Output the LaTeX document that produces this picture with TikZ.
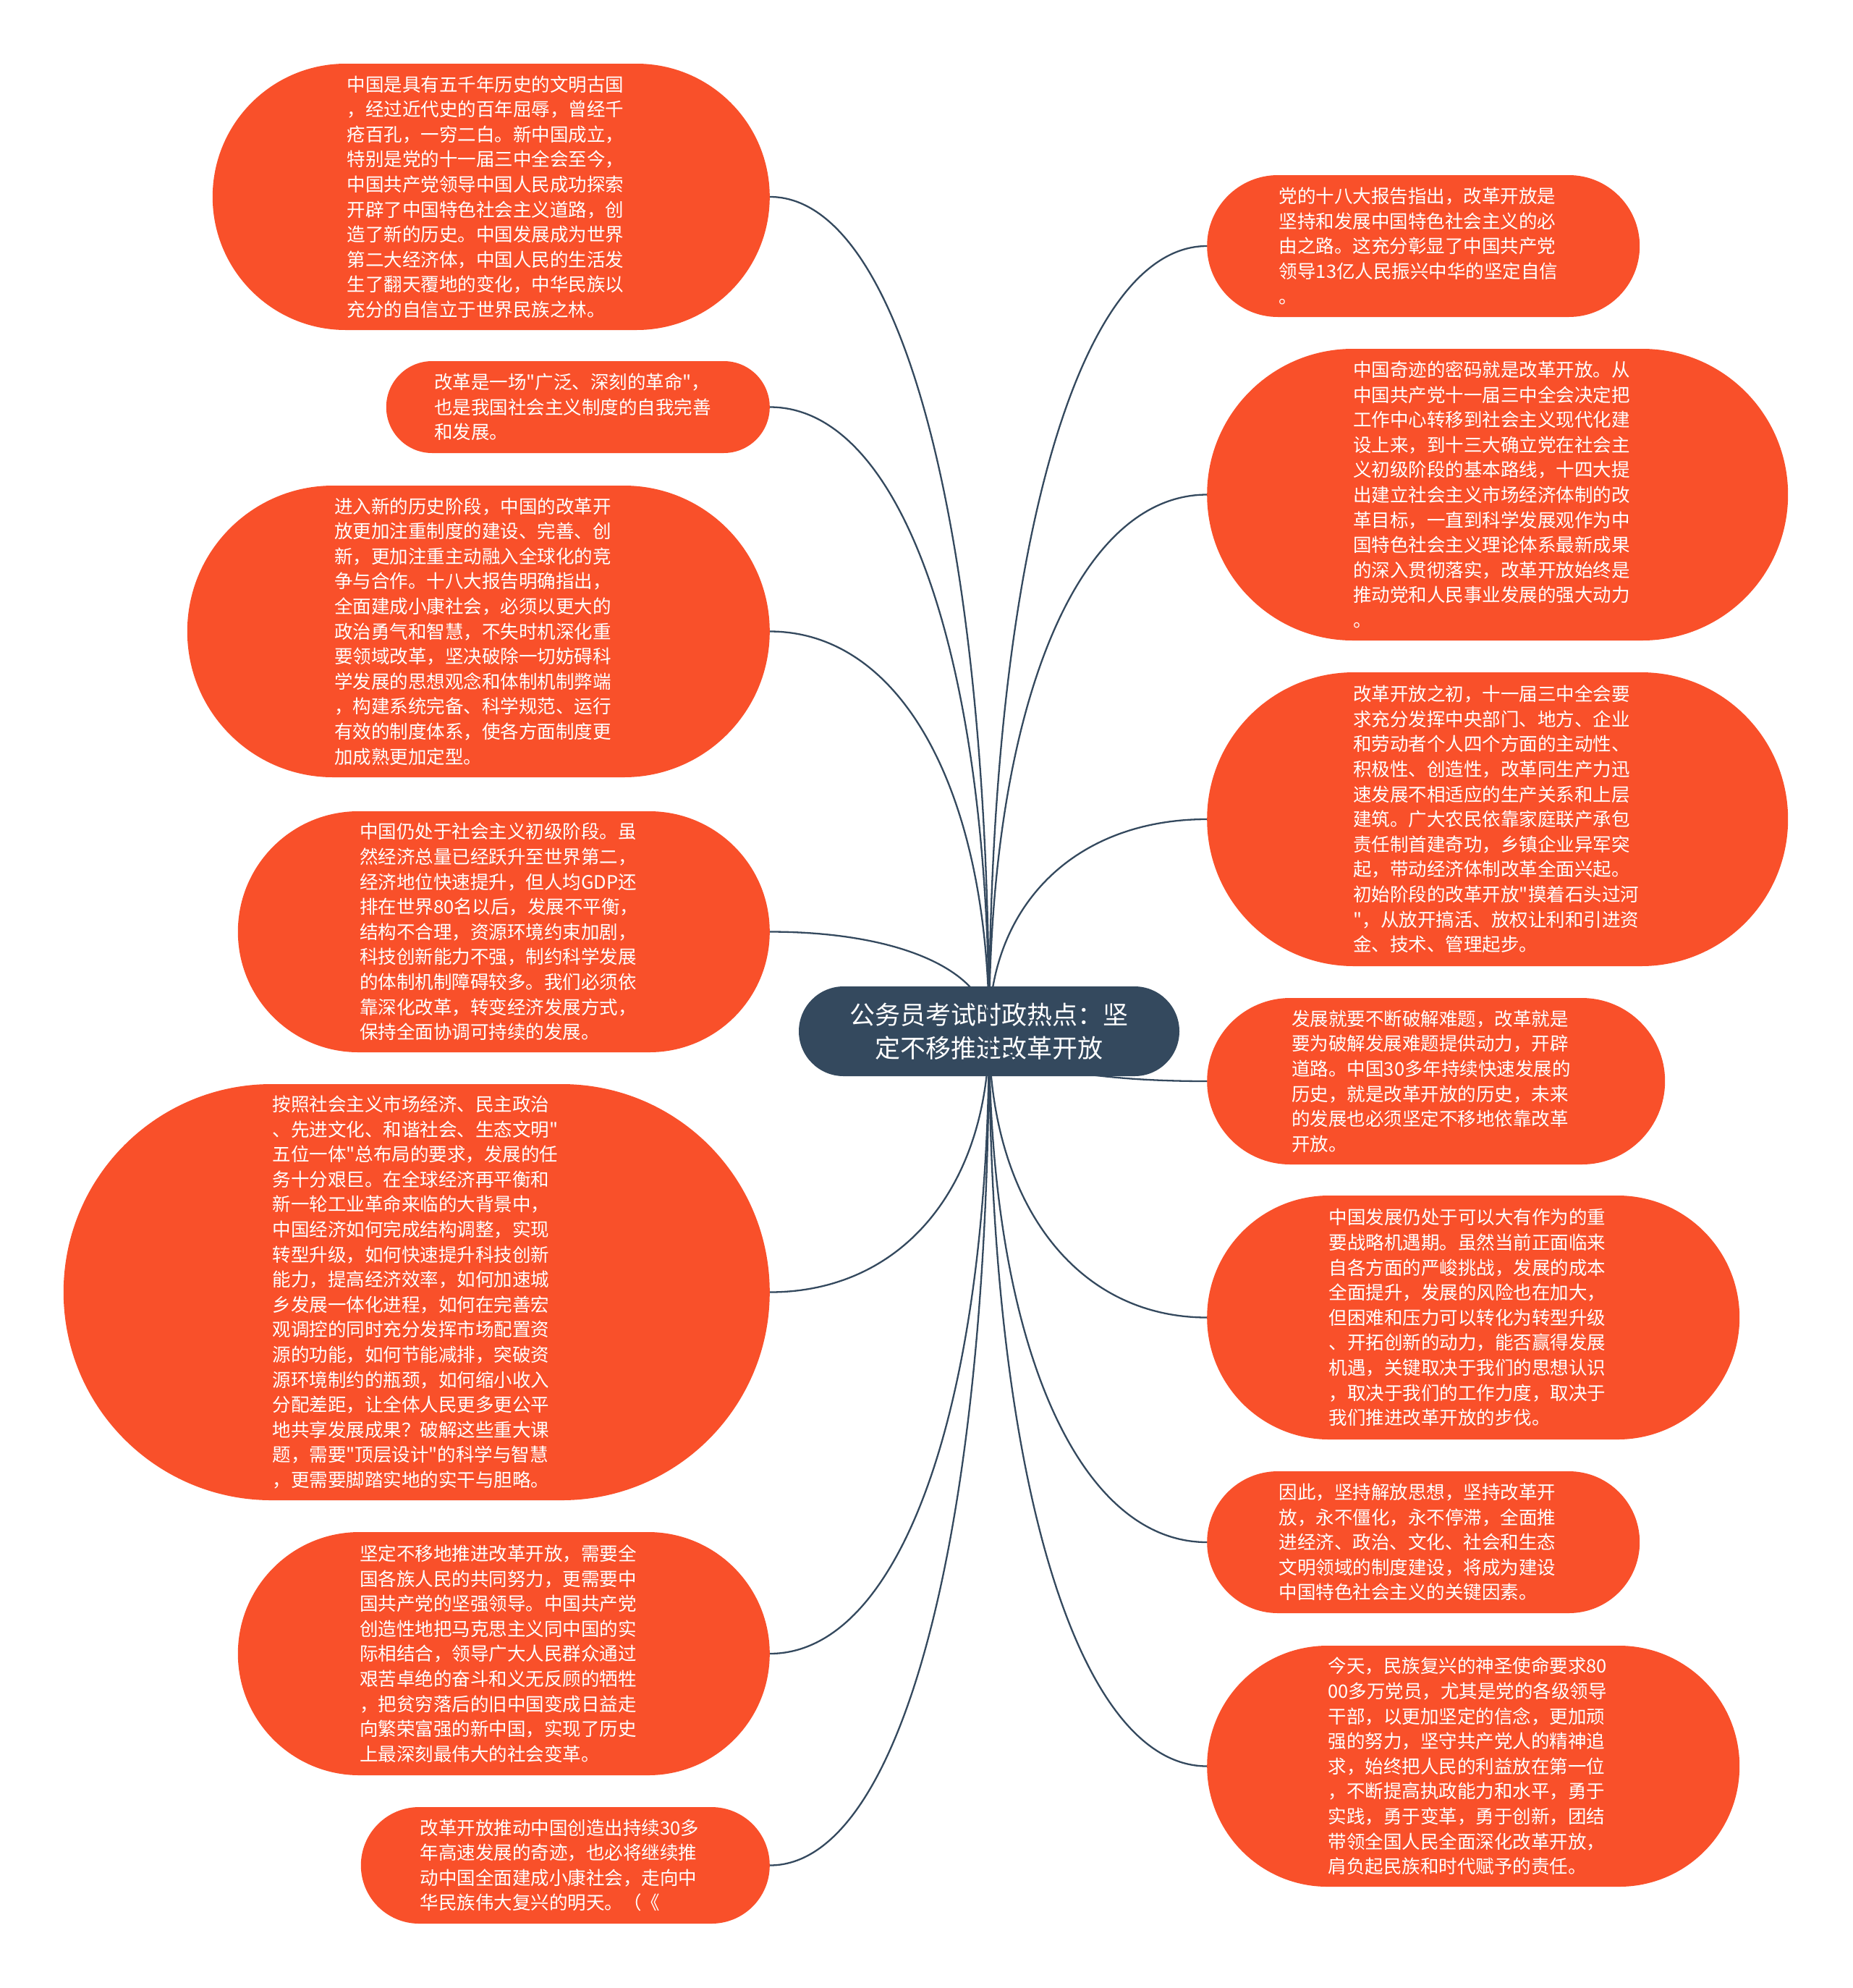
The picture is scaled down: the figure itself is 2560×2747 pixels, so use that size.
\documentclass[tikz,border=0pt]{standalone}
\usepackage{fontspec}
\newfontfamily\cjk{Noto Sans CJK SC}
\usetikzlibrary{shapes.misc,calc}
\definecolor{leaf}{HTML}{F9502A}
\definecolor{hub}{HTML}{34495E}
\newcommand\ex{\kern16pt}
\tikzset{
  leafbox/.style={rounded rectangle, fill=leaf, text=white, align=left, inner sep=0pt,
    font=\cjk\fontsize{25.5}{34.6}\selectfont},
  hubbox/.style={rounded rectangle, fill=hub, text=white, align=center, inner sep=0pt,
    font=\cjk\fontsize{35}{45.6}\selectfont},
  conn/.style={draw=hub, line width=2.3pt}
}
\begin{document}
\begin{tikzpicture}[x=1pt,y=-1pt]
\useasboundingbox (0,0) rectangle (2560,2747);
\fill[white] (0,0) rectangle (2560,2747);

\node[hubbox, minimum width=526pt, minimum height=124pt] (C) at (1367,1425) {公务员考试时政热点：坚\\定不移推进改革开放};

% left leaves
\node[leafbox, anchor=east, minimum width=770pt, minimum height=368pt] (L1) at (1064,272) {中国是具有五千年历史的文明古国\ex\\，经过近代史的百年屈辱，曾经千\\疮百孔，一穷二白。新中国成立，\\特别是党的十一届三中全会至今，\\中国共产党领导中国人民成功探索\\开辟了中国特色社会主义道路，创\\造了新的历史。中国发展成为世界\\第二大经济体，中国人民的生活发\\生了翻天覆地的变化，中华民族以\\充分的自信立于世界民族之林。};
\node[leafbox, anchor=east, minimum width=530pt, minimum height=127pt] (L2) at (1064,562.5) {改革是一场"广泛、深刻的革命"，\ex\\也是我国社会主义制度的自我完善\\和发展。};
\node[leafbox, anchor=east, minimum width=805pt, minimum height=403pt] (L3) at (1064,872.5) {进入新的历史阶段，中国的改革开\ex\\放更加注重制度的建设、完善、创\\新，更加注重主动融入全球化的竞\\争与合作。十八大报告明确指出，\\全面建成小康社会，必须以更大的\\政治勇气和智慧，不失时机深化重\\要领域改革，坚决破除一切妨碍科\\学发展的思想观念和体制机制弊端\\，构建系统完备、科学规范、运行\\有效的制度体系，使各方面制度更\\加成熟更加定型。};
\node[leafbox, anchor=east, minimum width=735pt, minimum height=333pt] (L4) at (1064,1287.5) {中国仍处于社会主义初级阶段。虽\ex\\然经济总量已经跃升至世界第二，\\经济地位快速提升，但人均GDP还\\排在世界80名以后，发展不平衡，\\结构不合理，资源环境约束加剧，\\科技创新能力不强，制约科学发展\\的体制机制障碍较多。我们必须依\\靠深化改革，转变经济发展方式，\\保持全面协调可持续的发展。};
\node[leafbox, anchor=east, minimum width=976pt, minimum height=575pt] (L5) at (1064,1785.5) {按照社会主义市场经济、民主政治\ex\\、先进文化、和谐社会、生态文明"\\五位一体"总布局的要求，发展的任\\务十分艰巨。在全球经济再平衡和\\新一轮工业革命来临的大背景中，\\中国经济如何完成结构调整，实现\\转型升级，如何快速提升科技创新\\能力，提高经济效率，如何加速城\\乡发展一体化进程，如何在完善宏\\观调控的同时充分发挥市场配置资\\源的功能，如何节能减排，突破资\\源环境制约的瓶颈，如何缩小收入\\分配差距，让全体人民更多更公平\\地共享发展成果？破解这些重大课\\题，需要"顶层设计"的科学与智慧\\，更需要脚踏实地的实干与胆略。};
\node[leafbox, anchor=east, minimum width=735pt, minimum height=336pt] (L6) at (1064,2285) {坚定不移地推进改革开放，需要全\ex\\国各族人民的共同努力，更需要中\\国共产党的坚强领导。中国共产党\\创造性地把马克思主义同中国的实\\际相结合，领导广大人民群众通过\\艰苦卓绝的奋斗和义无反顾的牺牲\\，把贫穷落后的旧中国变成日益走\\向繁荣富强的新中国，实现了历史\\上最深刻最伟大的社会变革。};
\node[leafbox, anchor=east, minimum width=565pt, minimum height=161pt] (L7) at (1064,2577.5) {改革开放推动中国创造出持续30多\ex\\年高速发展的奇迹，也必将继续推\\动中国全面建成小康社会，走向中\\华民族伟大复兴的明天。（《};

% right leaves
\node[leafbox, anchor=west, minimum width=598pt, minimum height=196pt] (R1) at (1668,340) {党的十八大报告指出，改革开放是\ex\\坚持和发展中国特色社会主义的必\\由之路。这充分彰显了中国共产党\\领导13亿人民振兴中华的坚定自信\\。};
\node[leafbox, anchor=west, minimum width=803pt, minimum height=403pt] (R2) at (1668,683.5) {中国奇迹的密码就是改革开放。从\ex\\中国共产党十一届三中全会决定把\\工作中心转移到社会主义现代化建\\设上来，到十三大确立党在社会主\\义初级阶段的基本路线，十四大提\\出建立社会主义市场经济体制的改\\革目标，一直到科学发展观作为中\\国特色社会主义理论体系最新成果\\的深入贯彻落实，改革开放始终是\\推动党和人民事业发展的强大动力\\。};
\node[leafbox, anchor=west, minimum width=803pt, minimum height=406pt] (R3) at (1668,1132) {改革开放之初，十一届三中全会要\ex\\求充分发挥中央部门、地方、企业\\和劳动者个人四个方面的主动性、\\积极性、创造性，改革同生产力迅\\速发展不相适应的生产关系和上层\\建筑。广大农民依靠家庭联产承包\\责任制首建奇功，乡镇企业异军突\\起，带动经济体制改革全面兴起。\\初始阶段的改革开放"摸着石头过河\\"，从放开搞活、放权让利和引进资\\金、技术、管理起步。};
\node[leafbox, anchor=west, minimum width=633pt, minimum height=230pt] (R4) at (1668,1494) {发展就要不断破解难题，改革就是\ex\\要为破解发展难题提供动力，开辟\\道路。中国30多年持续快速发展的\\历史，就是改革开放的历史，未来\\的发展也必须坚定不移地依靠改革\\开放。};
\node[leafbox, anchor=west, minimum width=736pt, minimum height=337pt] (R5) at (1668,1820.5) {中国发展仍处于可以大有作为的重\ex\\要战略机遇期。虽然当前正面临来\\自各方面的严峻挑战，发展的成本\\全面提升，发展的风险也在加大，\\但困难和压力可以转化为转型升级\\、开拓创新的动力，能否赢得发展\\机遇，关键取决于我们的思想认识\\，取决于我们的工作力度，取决于\\我们推进改革开放的步伐。};
\node[leafbox, anchor=west, minimum width=598pt, minimum height=196pt] (R6) at (1668,2131) {因此，坚持解放思想，坚持改革开\ex\\放，永不僵化，永不停滞，全面推\\进经济、政治、文化、社会和生态\\文明领域的制度建设，将成为建设\\中国特色社会主义的关键因素。};
\node[leafbox, anchor=west, minimum width=736pt, minimum height=333pt] (R7) at (1668,2440.5) {今天，民族复兴的神圣使命要求80\ex\\00多万党员，尤其是党的各级领导\\干部，以更加坚定的信念，更加顽\\强的努力，坚守共产党人的精神追\\求，始终把人民的利益放在第一位\\，不断提高执政能力和水平，勇于\\实践，勇于变革，勇于创新，团结\\带领全国人民全面深化改革开放，\\肩负起民族和时代赋予的责任。};

% connectors (drawn over the hub, as in the reference)
\foreach \n/\a in {L1/east,L2/east,L3/east,L4/east,L5/east,L6/east,L7/east,R1/west,R2/west,R3/west,R4/west,R5/west,R6/west,R7/west}
  \draw[conn] (C.center) .. controls ($(C.center)!0.6!(C.center|-\n.\a)$) and ($(\n.\a)!0.6!(\n.\a-|C.center)$) .. (\n.\a);
\end{tikzpicture}
\end{document}
